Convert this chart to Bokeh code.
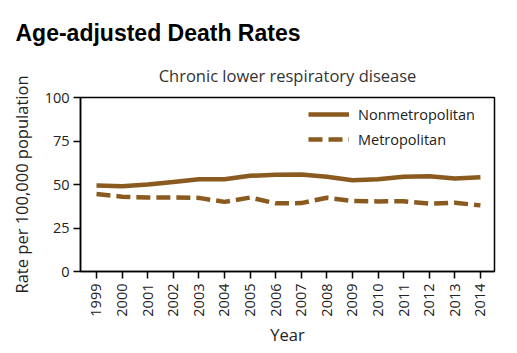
from bokeh.plotting import figure
from bokeh.models import Title, Range1d, FixedTicker, Legend, LegendItem
from bokeh.embed import file_html
from bokeh.resources import INLINE
import math

years = list(range(1999, 2015))
nonmetro = [49.4, 49.0, 50.0, 51.5, 53.0, 53.0, 55.0, 55.6, 55.8, 54.5, 52.5, 53.0, 54.5, 54.7, 53.5, 54.2]
metro = [44.5, 43.0, 42.5, 42.5, 42.3, 40.0, 42.5, 39.2, 39.3, 42.4, 40.5, 40.3, 40.4, 39.0, 39.5, 38.0]
y_ticks = [0, 25, 50, 75, 100]

COLOR = "#8a5a1f"
FONT = "Open Sans"

p = figure(frame_width=414, frame_height=174, output_backend="svg", toolbar_location=None,
           x_range=Range1d(1998.375, 2014.55), y_range=Range1d(0, 100),
           min_border_left=80, min_border_right=23, min_border_bottom=82, min_border_top=97)
p.title = None

r1 = p.line(years, nonmetro, line_color=COLOR, line_width=4.5)
r2 = p.line(years, metro, line_color=COLOR, line_width=4.5, line_dash="14 6")

legend = Legend(items=[LegendItem(label="Nonmetropolitan", renderers=[r1]),
                       LegendItem(label="Metropolitan", renderers=[r2])],
                location=(228, 122), border_line_color=None, background_fill_alpha=0,
                glyph_width=41, glyph_height=20, spacing=5, label_standoff=9,
                label_text_font=FONT, label_text_font_size="14.5px", label_text_color="#222222",
                margin=0, padding=0)
p.add_layout(legend)

p.xgrid.visible = False
p.ygrid.visible = False
p.outline_line_color = "black"
p.outline_line_width = 1.5

p.xaxis.ticker = FixedTicker(ticks=years)
p.yaxis.ticker = FixedTicker(ticks=y_ticks)
for ax in (p.xaxis[0], p.yaxis[0]):
    ax.axis_line_color = "black"
    ax.axis_line_width = 1.5
    ax.major_tick_line_width = 1.5
    ax.major_tick_line_color = "black"
    ax.major_tick_in = 0
    ax.major_tick_out = 7
    ax.minor_tick_line_color = None
    ax.major_label_text_font = FONT
    ax.major_label_text_font_size = "14.5px"
    ax.major_label_text_color = "#222222"
    ax.axis_label_text_font = FONT
    ax.axis_label_text_font_size = "16.5px"
    ax.axis_label_text_font_style = "normal"
    ax.axis_label_text_color = "#222222"

p.xaxis.major_label_orientation = math.pi / 2
p.xaxis.axis_label = "Year"
p.yaxis.axis_label = "Rate per 100,000 population"
p.xaxis.major_label_standoff = 5
p.yaxis.major_label_standoff = 4
p.xaxis.axis_label_standoff = 3
p.yaxis.axis_label_standoff = 9

sub = Title(text="Chronic lower respiratory disease", align="center", text_font=FONT,
            text_font_size="16.5px", text_font_style="normal", text_color="#333333", standoff=22)
p.add_layout(sub, "above")
main = Title(text="Age-adjusted Death Rates", align="left", text_font="Liberation Sans",
             text_font_size="23px", text_font_style="bold", text_color="black", offset=-65, standoff=10)
p.add_layout(main, "above")

open("out.html", "w").write(file_html(p, INLINE))
